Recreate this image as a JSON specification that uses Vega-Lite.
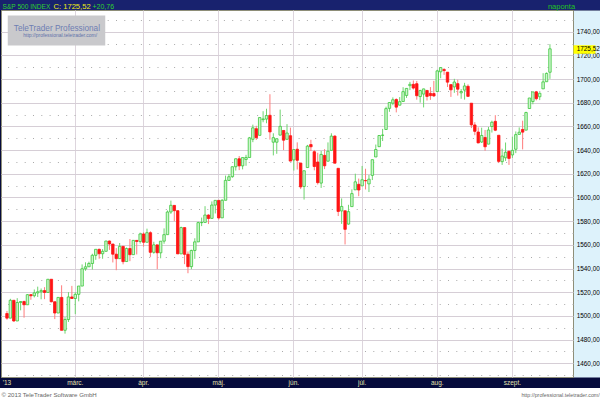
{
  "$schema": "https://vega.github.io/schema/vega-lite/v6.json",
  "autosize": {"type": "none"},
  "padding": {"left": 1, "top": 10, "right": 27, "bottom": 23},
  "width": 572,
  "height": 367,
  "background": "#060b3c",
  "config": {
    "font": "Liberation Sans, Arial, sans-serif",
    "view": {"fill": "#ffffff", "stroke": "#8e8e78", "strokeWidth": 1}
  },
  "data": {
    "values": [
      {"d": "2013-01-31", "o": 1501.99, "h": 1504.19, "l": 1496.76, "c": 1498.11},
      {"d": "2013-02-01", "o": 1498.11, "h": 1514.41, "l": 1498.11, "c": 1513.17},
      {"d": "2013-02-04", "o": 1513.17, "h": 1513.17, "l": 1495.02, "c": 1495.71},
      {"d": "2013-02-05", "o": 1495.71, "h": 1514.96, "l": 1495.71, "c": 1511.29},
      {"d": "2013-02-06", "o": 1511.29, "h": 1512.53, "l": 1504.71, "c": 1512.12},
      {"d": "2013-02-07", "o": 1512.12, "h": 1512.9, "l": 1498.49, "c": 1509.39},
      {"d": "2013-02-08", "o": 1509.39, "h": 1518.31, "l": 1509.39, "c": 1517.93},
      {"d": "2013-02-11", "o": 1517.93, "h": 1518.31, "l": 1513.61, "c": 1517.01},
      {"d": "2013-02-12", "o": 1517.01, "h": 1522.29, "l": 1515.61, "c": 1519.43},
      {"d": "2013-02-13", "o": 1519.43, "h": 1524.69, "l": 1515.93, "c": 1520.33},
      {"d": "2013-02-14", "o": 1520.33, "h": 1523.14, "l": 1514.02, "c": 1521.38},
      {"d": "2013-02-15", "o": 1521.38, "h": 1524.24, "l": 1514.14, "c": 1519.79},
      {"d": "2013-02-19", "o": 1519.79, "h": 1530.94, "l": 1519.79, "c": 1530.94},
      {"d": "2013-02-20", "o": 1530.94, "h": 1530.94, "l": 1511.41, "c": 1511.95},
      {"d": "2013-02-21", "o": 1511.95, "h": 1511.95, "l": 1497.29, "c": 1502.42},
      {"d": "2013-02-22", "o": 1502.42, "h": 1515.64, "l": 1502.42, "c": 1515.6},
      {"d": "2013-02-25", "o": 1515.6, "h": 1525.84, "l": 1487.85, "c": 1487.85},
      {"d": "2013-02-26", "o": 1487.85, "h": 1498.99, "l": 1485.01, "c": 1496.94},
      {"d": "2013-02-27", "o": 1496.94, "h": 1520.08, "l": 1494.88, "c": 1515.99},
      {"d": "2013-02-28", "o": 1515.99, "h": 1525.34, "l": 1514.46, "c": 1514.68},
      {"d": "2013-03-01", "o": 1514.68, "h": 1519.99, "l": 1501.48, "c": 1518.2},
      {"d": "2013-03-04", "o": 1518.2, "h": 1525.27, "l": 1512.29, "c": 1525.2},
      {"d": "2013-03-05", "o": 1525.2, "h": 1543.47, "l": 1525.2, "c": 1539.79},
      {"d": "2013-03-06", "o": 1539.79, "h": 1545.25, "l": 1538.11, "c": 1541.46},
      {"d": "2013-03-07", "o": 1541.46, "h": 1545.78, "l": 1541.46, "c": 1544.26},
      {"d": "2013-03-08", "o": 1544.26, "h": 1552.48, "l": 1539.16, "c": 1551.18},
      {"d": "2013-03-11", "o": 1551.15, "h": 1556.27, "l": 1547.36, "c": 1556.22},
      {"d": "2013-03-12", "o": 1556.22, "h": 1556.77, "l": 1548.24, "c": 1552.48},
      {"d": "2013-03-13", "o": 1552.48, "h": 1556.39, "l": 1548.25, "c": 1554.52},
      {"d": "2013-03-14", "o": 1554.52, "h": 1563.32, "l": 1554.52, "c": 1563.23},
      {"d": "2013-03-15", "o": 1563.21, "h": 1563.62, "l": 1555.74, "c": 1560.7},
      {"d": "2013-03-18", "o": 1560.7, "h": 1560.7, "l": 1545.13, "c": 1552.1},
      {"d": "2013-03-19", "o": 1552.1, "h": 1557.25, "l": 1538.57, "c": 1548.34},
      {"d": "2013-03-20", "o": 1548.34, "h": 1561.56, "l": 1548.34, "c": 1558.71},
      {"d": "2013-03-21", "o": 1558.71, "h": 1558.71, "l": 1543.55, "c": 1545.8},
      {"d": "2013-03-22", "o": 1545.9, "h": 1557.74, "l": 1545.9, "c": 1556.89},
      {"d": "2013-03-25", "o": 1556.89, "h": 1564.91, "l": 1546.22, "c": 1551.69},
      {"d": "2013-03-26", "o": 1551.69, "h": 1563.95, "l": 1551.69, "c": 1563.77},
      {"d": "2013-03-27", "o": 1563.75, "h": 1564.07, "l": 1551.9, "c": 1562.85},
      {"d": "2013-03-28", "o": 1562.86, "h": 1570.28, "l": 1561.08, "c": 1569.19},
      {"d": "2013-04-01", "o": 1569.18, "h": 1570.57, "l": 1558.47, "c": 1562.17},
      {"d": "2013-04-02", "o": 1562.17, "h": 1573.66, "l": 1562.17, "c": 1570.25},
      {"d": "2013-04-03", "o": 1570.25, "h": 1571.47, "l": 1549.8, "c": 1553.69},
      {"d": "2013-04-04", "o": 1553.69, "h": 1562.6, "l": 1552.52, "c": 1559.98},
      {"d": "2013-04-05", "o": 1559.98, "h": 1559.98, "l": 1539.5, "c": 1553.28},
      {"d": "2013-04-08", "o": 1553.26, "h": 1563.07, "l": 1548.63, "c": 1563.07},
      {"d": "2013-04-09", "o": 1563.11, "h": 1573.89, "l": 1560.92, "c": 1568.61},
      {"d": "2013-04-10", "o": 1568.61, "h": 1589.07, "l": 1568.61, "c": 1587.73},
      {"d": "2013-04-11", "o": 1587.73, "h": 1597.35, "l": 1586.17, "c": 1593.37},
      {"d": "2013-04-12", "o": 1593.3, "h": 1593.3, "l": 1579.97, "c": 1588.85},
      {"d": "2013-04-15", "o": 1588.84, "h": 1588.84, "l": 1552.28, "c": 1552.36},
      {"d": "2013-04-16", "o": 1552.36, "h": 1575.35, "l": 1552.36, "c": 1574.57},
      {"d": "2013-04-17", "o": 1574.57, "h": 1574.57, "l": 1543.69, "c": 1552.01},
      {"d": "2013-04-18", "o": 1552.03, "h": 1554.38, "l": 1536.03, "c": 1541.61},
      {"d": "2013-04-19", "o": 1541.61, "h": 1555.89, "l": 1539.4, "c": 1555.25},
      {"d": "2013-04-22", "o": 1555.25, "h": 1565.55, "l": 1548.19, "c": 1562.5},
      {"d": "2013-04-23", "o": 1562.5, "h": 1579.58, "l": 1562.5, "c": 1578.78},
      {"d": "2013-04-24", "o": 1578.78, "h": 1583.0, "l": 1575.8, "c": 1578.79},
      {"d": "2013-04-25", "o": 1578.93, "h": 1592.64, "l": 1578.93, "c": 1585.16},
      {"d": "2013-04-26", "o": 1585.16, "h": 1585.78, "l": 1577.56, "c": 1582.24},
      {"d": "2013-04-29", "o": 1582.34, "h": 1596.65, "l": 1582.34, "c": 1593.61},
      {"d": "2013-04-30", "o": 1593.58, "h": 1597.57, "l": 1586.5, "c": 1597.57},
      {"d": "2013-05-01", "o": 1597.55, "h": 1597.55, "l": 1581.28, "c": 1582.7},
      {"d": "2013-05-02", "o": 1582.77, "h": 1598.6, "l": 1582.77, "c": 1597.59},
      {"d": "2013-05-03", "o": 1597.6, "h": 1618.46, "l": 1597.6, "c": 1614.42},
      {"d": "2013-05-06", "o": 1614.4, "h": 1619.77, "l": 1614.21, "c": 1617.5},
      {"d": "2013-05-07", "o": 1617.55, "h": 1626.03, "l": 1616.64, "c": 1625.96},
      {"d": "2013-05-08", "o": 1625.95, "h": 1632.78, "l": 1622.7, "c": 1632.69},
      {"d": "2013-05-09", "o": 1632.69, "h": 1635.01, "l": 1623.09, "c": 1626.67},
      {"d": "2013-05-10", "o": 1626.69, "h": 1633.7, "l": 1623.71, "c": 1633.7},
      {"d": "2013-05-13", "o": 1632.1, "h": 1636.0, "l": 1626.74, "c": 1633.77},
      {"d": "2013-05-14", "o": 1633.75, "h": 1651.1, "l": 1633.75, "c": 1650.34},
      {"d": "2013-05-15", "o": 1649.13, "h": 1661.49, "l": 1646.68, "c": 1658.78},
      {"d": "2013-05-16", "o": 1658.07, "h": 1660.51, "l": 1648.6, "c": 1650.47},
      {"d": "2013-05-17", "o": 1652.45, "h": 1667.47, "l": 1652.45, "c": 1667.47},
      {"d": "2013-05-20", "o": 1665.71, "h": 1672.84, "l": 1663.52, "c": 1666.29},
      {"d": "2013-05-21", "o": 1666.2, "h": 1674.93, "l": 1662.67, "c": 1669.16},
      {"d": "2013-05-22", "o": 1669.39, "h": 1687.18, "l": 1648.86, "c": 1655.35},
      {"d": "2013-05-23", "o": 1646.67, "h": 1654.19, "l": 1635.53, "c": 1650.51},
      {"d": "2013-05-24", "o": 1646.67, "h": 1649.78, "l": 1636.88, "c": 1649.6},
      {"d": "2013-05-28", "o": 1652.63, "h": 1674.21, "l": 1652.63, "c": 1660.06},
      {"d": "2013-05-29", "o": 1656.57, "h": 1656.57, "l": 1640.05, "c": 1648.36},
      {"d": "2013-05-30", "o": 1649.14, "h": 1661.91, "l": 1648.61, "c": 1654.41},
      {"d": "2013-05-31", "o": 1652.13, "h": 1658.99, "l": 1630.74, "c": 1630.74},
      {"d": "2013-06-03", "o": 1631.71, "h": 1640.42, "l": 1622.72, "c": 1640.42},
      {"d": "2013-06-04", "o": 1640.73, "h": 1646.53, "l": 1623.62, "c": 1631.38},
      {"d": "2013-06-05", "o": 1629.05, "h": 1629.31, "l": 1607.09, "c": 1608.9},
      {"d": "2013-06-06", "o": 1609.29, "h": 1622.56, "l": 1598.23, "c": 1622.56},
      {"d": "2013-06-07", "o": 1625.27, "h": 1644.4, "l": 1625.27, "c": 1643.38},
      {"d": "2013-06-10", "o": 1644.67, "h": 1648.69, "l": 1639.26, "c": 1642.81},
      {"d": "2013-06-11", "o": 1638.64, "h": 1640.13, "l": 1622.92, "c": 1626.13},
      {"d": "2013-06-12", "o": 1629.94, "h": 1637.71, "l": 1610.92, "c": 1612.52},
      {"d": "2013-06-13", "o": 1612.15, "h": 1639.25, "l": 1608.07, "c": 1636.36},
      {"d": "2013-06-14", "o": 1635.52, "h": 1640.8, "l": 1623.96, "c": 1626.73},
      {"d": "2013-06-17", "o": 1630.64, "h": 1646.5, "l": 1630.34, "c": 1639.04},
      {"d": "2013-06-18", "o": 1639.77, "h": 1654.19, "l": 1639.77, "c": 1651.81},
      {"d": "2013-06-19", "o": 1651.83, "h": 1652.45, "l": 1628.91, "c": 1628.93},
      {"d": "2013-06-20", "o": 1624.62, "h": 1624.62, "l": 1584.32, "c": 1588.19},
      {"d": "2013-06-21", "o": 1588.62, "h": 1599.19, "l": 1577.7, "c": 1592.43},
      {"d": "2013-06-24", "o": 1588.77, "h": 1588.77, "l": 1560.33, "c": 1573.09},
      {"d": "2013-06-25", "o": 1577.52, "h": 1593.79, "l": 1577.09, "c": 1588.03},
      {"d": "2013-06-26", "o": 1592.27, "h": 1606.83, "l": 1592.27, "c": 1603.26},
      {"d": "2013-06-27", "o": 1606.44, "h": 1620.07, "l": 1606.44, "c": 1613.2},
      {"d": "2013-06-28", "o": 1611.12, "h": 1615.94, "l": 1601.06, "c": 1606.28},
      {"d": "2013-07-01", "o": 1609.78, "h": 1626.61, "l": 1609.78, "c": 1614.96},
      {"d": "2013-07-02", "o": 1614.29, "h": 1624.26, "l": 1606.77, "c": 1614.08},
      {"d": "2013-07-03", "o": 1611.48, "h": 1618.97, "l": 1604.57, "c": 1615.41},
      {"d": "2013-07-05", "o": 1618.65, "h": 1632.07, "l": 1614.71, "c": 1631.89},
      {"d": "2013-07-08", "o": 1634.2, "h": 1644.68, "l": 1634.2, "c": 1640.46},
      {"d": "2013-07-09", "o": 1642.89, "h": 1652.33, "l": 1642.89, "c": 1652.32},
      {"d": "2013-07-10", "o": 1652.5, "h": 1657.92, "l": 1647.66, "c": 1652.62},
      {"d": "2013-07-11", "o": 1657.41, "h": 1676.63, "l": 1657.41, "c": 1675.02},
      {"d": "2013-07-12", "o": 1675.26, "h": 1680.19, "l": 1672.33, "c": 1680.19},
      {"d": "2013-07-15", "o": 1679.59, "h": 1684.51, "l": 1677.89, "c": 1682.5},
      {"d": "2013-07-16", "o": 1682.7, "h": 1683.73, "l": 1671.84, "c": 1676.26},
      {"d": "2013-07-17", "o": 1677.91, "h": 1684.75, "l": 1677.91, "c": 1680.91},
      {"d": "2013-07-18", "o": 1681.05, "h": 1693.12, "l": 1681.05, "c": 1689.37},
      {"d": "2013-07-19", "o": 1686.15, "h": 1692.09, "l": 1684.08, "c": 1692.09},
      {"d": "2013-07-22", "o": 1694.41, "h": 1697.61, "l": 1690.67, "c": 1695.53},
      {"d": "2013-07-23", "o": 1695.53, "h": 1698.78, "l": 1691.13, "c": 1692.39},
      {"d": "2013-07-24", "o": 1696.06, "h": 1698.38, "l": 1682.57, "c": 1685.94},
      {"d": "2013-07-25", "o": 1685.21, "h": 1690.94, "l": 1680.07, "c": 1690.25},
      {"d": "2013-07-26", "o": 1687.31, "h": 1691.85, "l": 1676.03, "c": 1691.65},
      {"d": "2013-07-29", "o": 1690.32, "h": 1690.92, "l": 1681.86, "c": 1685.33},
      {"d": "2013-07-30", "o": 1687.92, "h": 1693.19, "l": 1682.42, "c": 1685.96},
      {"d": "2013-07-31", "o": 1687.76, "h": 1698.43, "l": 1684.94, "c": 1685.73},
      {"d": "2013-08-01", "o": 1689.42, "h": 1707.85, "l": 1689.42, "c": 1706.87},
      {"d": "2013-08-02", "o": 1706.1, "h": 1709.67, "l": 1700.68, "c": 1709.67},
      {"d": "2013-08-05", "o": 1708.01, "h": 1709.24, "l": 1703.55, "c": 1707.14},
      {"d": "2013-08-06", "o": 1705.79, "h": 1705.79, "l": 1693.29, "c": 1697.37},
      {"d": "2013-08-07", "o": 1695.3, "h": 1695.3, "l": 1684.91, "c": 1690.91},
      {"d": "2013-08-08", "o": 1693.35, "h": 1700.18, "l": 1688.38, "c": 1697.48},
      {"d": "2013-08-09", "o": 1696.1, "h": 1699.42, "l": 1686.02, "c": 1691.42},
      {"d": "2013-08-12", "o": 1688.37, "h": 1691.49, "l": 1683.35, "c": 1689.47},
      {"d": "2013-08-13", "o": 1690.65, "h": 1696.81, "l": 1682.62, "c": 1694.16},
      {"d": "2013-08-14", "o": 1693.88, "h": 1695.52, "l": 1684.83, "c": 1685.39},
      {"d": "2013-08-15", "o": 1679.61, "h": 1679.61, "l": 1658.59, "c": 1661.32},
      {"d": "2013-08-16", "o": 1661.22, "h": 1663.6, "l": 1652.61, "c": 1655.83},
      {"d": "2013-08-19", "o": 1655.25, "h": 1659.18, "l": 1645.84, "c": 1646.06},
      {"d": "2013-08-20", "o": 1646.81, "h": 1658.92, "l": 1646.08, "c": 1652.35},
      {"d": "2013-08-21", "o": 1650.66, "h": 1656.99, "l": 1639.43, "c": 1642.8},
      {"d": "2013-08-22", "o": 1645.03, "h": 1659.55, "l": 1645.03, "c": 1656.96},
      {"d": "2013-08-23", "o": 1659.92, "h": 1664.85, "l": 1654.81, "c": 1663.5},
      {"d": "2013-08-26", "o": 1664.29, "h": 1669.51, "l": 1656.02, "c": 1656.78},
      {"d": "2013-08-27", "o": 1652.54, "h": 1652.54, "l": 1629.05, "c": 1630.48},
      {"d": "2013-08-28", "o": 1630.25, "h": 1641.18, "l": 1627.47, "c": 1634.96},
      {"d": "2013-08-29", "o": 1633.5, "h": 1646.41, "l": 1630.88, "c": 1638.17},
      {"d": "2013-08-30", "o": 1638.89, "h": 1640.08, "l": 1627.47, "c": 1632.97},
      {"d": "2013-09-03", "o": 1635.95, "h": 1651.35, "l": 1633.41, "c": 1639.77},
      {"d": "2013-09-04", "o": 1640.72, "h": 1655.72, "l": 1637.41, "c": 1653.08},
      {"d": "2013-09-05", "o": 1653.28, "h": 1659.17, "l": 1653.07, "c": 1655.08},
      {"d": "2013-09-06", "o": 1657.44, "h": 1664.83, "l": 1640.62, "c": 1655.17},
      {"d": "2013-09-09", "o": 1656.85, "h": 1672.4, "l": 1656.85, "c": 1671.71},
      {"d": "2013-09-10", "o": 1675.11, "h": 1684.09, "l": 1675.11, "c": 1683.99},
      {"d": "2013-09-11", "o": 1681.04, "h": 1689.13, "l": 1678.7, "c": 1689.13},
      {"d": "2013-09-12", "o": 1689.21, "h": 1689.97, "l": 1681.96, "c": 1683.42},
      {"d": "2013-09-13", "o": 1685.04, "h": 1688.73, "l": 1682.22, "c": 1687.99},
      {"d": "2013-09-16", "o": 1691.7, "h": 1704.95, "l": 1691.7, "c": 1697.6},
      {"d": "2013-09-17", "o": 1697.73, "h": 1705.52, "l": 1697.73, "c": 1704.76},
      {"d": "2013-09-18", "o": 1705.74, "h": 1729.44, "l": 1700.18, "c": 1725.52}
    ]
  },
  "resolve": {"axis": {"x": "independent", "y": "independent"}},
  "layer": [
    {
      "transform": [{"filter": "datum.c >= datum.o"}],
      "mark": {"type": "rule", "color": "#6fd46f", "strokeWidth": 1},
      "encoding": {
        "x": {
          "field": "d", "type": "ordinal",
          "scale": {
            "type": "band", "paddingInner": 0, "paddingOuter": 0.25,
            "domain": ["2013-01-30", "2013-01-31", "2013-02-01", "2013-02-04", "2013-02-05", "2013-02-06", "2013-02-07", "2013-02-08", "2013-02-11", "2013-02-12", "2013-02-13", "2013-02-14", "2013-02-15", "2013-02-19", "2013-02-20", "2013-02-21", "2013-02-22", "2013-02-25", "2013-02-26", "2013-02-27", "2013-02-28", "2013-03-01", "2013-03-04", "2013-03-05", "2013-03-06", "2013-03-07", "2013-03-08", "2013-03-11", "2013-03-12", "2013-03-13", "2013-03-14", "2013-03-15", "2013-03-18", "2013-03-19", "2013-03-20", "2013-03-21", "2013-03-22", "2013-03-25", "2013-03-26", "2013-03-27", "2013-03-28", "2013-04-01", "2013-04-02", "2013-04-03", "2013-04-04", "2013-04-05", "2013-04-08", "2013-04-09", "2013-04-10", "2013-04-11", "2013-04-12", "2013-04-15", "2013-04-16", "2013-04-17", "2013-04-18", "2013-04-19", "2013-04-22", "2013-04-23", "2013-04-24", "2013-04-25", "2013-04-26", "2013-04-29", "2013-04-30", "2013-05-01", "2013-05-02", "2013-05-03", "2013-05-06", "2013-05-07", "2013-05-08", "2013-05-09", "2013-05-10", "2013-05-13", "2013-05-14", "2013-05-15", "2013-05-16", "2013-05-17", "2013-05-20", "2013-05-21", "2013-05-22", "2013-05-23", "2013-05-24", "2013-05-28", "2013-05-29", "2013-05-30", "2013-05-31", "2013-06-03", "2013-06-04", "2013-06-05", "2013-06-06", "2013-06-07", "2013-06-10", "2013-06-11", "2013-06-12", "2013-06-13", "2013-06-14", "2013-06-17", "2013-06-18", "2013-06-19", "2013-06-20", "2013-06-21", "2013-06-24", "2013-06-25", "2013-06-26", "2013-06-27", "2013-06-28", "2013-07-01", "2013-07-02", "2013-07-03", "2013-07-05", "2013-07-08", "2013-07-09", "2013-07-10", "2013-07-11", "2013-07-12", "2013-07-15", "2013-07-16", "2013-07-17", "2013-07-18", "2013-07-19", "2013-07-22", "2013-07-23", "2013-07-24", "2013-07-25", "2013-07-26", "2013-07-29", "2013-07-30", "2013-07-31", "2013-08-01", "2013-08-02", "2013-08-05", "2013-08-06", "2013-08-07", "2013-08-08", "2013-08-09", "2013-08-12", "2013-08-13", "2013-08-14", "2013-08-15", "2013-08-16", "2013-08-19", "2013-08-20", "2013-08-21", "2013-08-22", "2013-08-23", "2013-08-26", "2013-08-27", "2013-08-28", "2013-08-29", "2013-08-30", "2013-09-03", "2013-09-04", "2013-09-05", "2013-09-06", "2013-09-09", "2013-09-10", "2013-09-11", "2013-09-12", "2013-09-13", "2013-09-16", "2013-09-17", "2013-09-18", "2013-09-19", "2013-09-20", "2013-09-23", "2013-09-24", "2013-09-25", "2013-09-26"]
          },
          "axis": {
            "orient": "bottom", "offset": 59.5, "bandPosition": 0.5,
            "values": ["2013-01-31", "2013-03-01", "2013-04-01", "2013-05-01", "2013-06-03", "2013-07-01", "2013-08-01", "2013-09-03"],
            "domain": true, "domainColor": "#ffffff", "domainWidth": 98, "domainCap": "square",
            "ticks": false,
            "labels": true,
            "labelExpr": "datum.value == '2013-01-31' ? \"'13\" : ['', 'jan.', 'febr.', 'márc.', 'ápr.', 'máj.', 'jún.', 'júl.', 'aug.', 'szept.', 'okt.', 'nov.', 'dec.'][toNumber(substring(datum.value, 5, 7))]",
            "labelColor": "#e2e2b0", "labelFontSize": 6.5, "labelPadding": -54, "labelBaseline": "middle", "labelAlign": "center", "labelAngle": 0,
            "labelOverlap": false, "labelBound": false, "labelFlush": false,
            "grid": true, "gridColor": "#ddd5dd", "gridWidth": 1,
            "gridOpacity": {"condition": {"test": "datum.value == '2013-01-31'", "value": 0}, "value": 1},
            "title": "© 2013 TeleTrader Software GmbH",
            "titleX": 0, "titleY": -42.5, "titleAlign": "left", "titleBaseline": "middle", "titleAnchor": "start",
            "titleColor": "#666666", "titleFontSize": 6.1, "titleFontWeight": "normal"
          }
        },
        "y": {
          "field": "l", "type": "quantitative",
          "scale": {"domain": [1448.4, 1758.3], "nice": false, "zero": false},
          "axis": {
            "orient": "right", "offset": 13.75,
            "values": [1460, 1480, 1500, 1520, 1540, 1560, 1580, 1600, 1620, 1640, 1660, 1680, 1700, 1720, 1740],
            "domain": true, "domainColor": "#ddf2fb", "domainWidth": 26.5, "domainCap": "butt",
            "ticks": false, "labels": false,
            "grid": true, "gridColor": "#d6ced6", "gridWidth": 1,
            "title": "http://professional.teletrader.com/",
            "titleAngle": 0, "titleX": 12.5, "titleY": 384, "titleAlign": "right", "titleBaseline": "middle",
            "titleColor": "#666666", "titleFontSize": 5.3, "titleFontWeight": "normal"
          }
        },
        "y2": {"field": "h"}
      }
    },
    {
      "transform": [{"filter": "datum.c < datum.o"}],
      "mark": {"type": "rule", "color": "#ff7c7c", "strokeWidth": 1},
      "encoding": {
        "x": {
          "field": "d", "type": "ordinal",
          "scale": {
            "type": "band", "paddingInner": 0, "paddingOuter": 0.25,
            "domain": ["2013-01-30", "2013-01-31", "2013-02-01", "2013-02-04", "2013-02-05", "2013-02-06", "2013-02-07", "2013-02-08", "2013-02-11", "2013-02-12", "2013-02-13", "2013-02-14", "2013-02-15", "2013-02-19", "2013-02-20", "2013-02-21", "2013-02-22", "2013-02-25", "2013-02-26", "2013-02-27", "2013-02-28", "2013-03-01", "2013-03-04", "2013-03-05", "2013-03-06", "2013-03-07", "2013-03-08", "2013-03-11", "2013-03-12", "2013-03-13", "2013-03-14", "2013-03-15", "2013-03-18", "2013-03-19", "2013-03-20", "2013-03-21", "2013-03-22", "2013-03-25", "2013-03-26", "2013-03-27", "2013-03-28", "2013-04-01", "2013-04-02", "2013-04-03", "2013-04-04", "2013-04-05", "2013-04-08", "2013-04-09", "2013-04-10", "2013-04-11", "2013-04-12", "2013-04-15", "2013-04-16", "2013-04-17", "2013-04-18", "2013-04-19", "2013-04-22", "2013-04-23", "2013-04-24", "2013-04-25", "2013-04-26", "2013-04-29", "2013-04-30", "2013-05-01", "2013-05-02", "2013-05-03", "2013-05-06", "2013-05-07", "2013-05-08", "2013-05-09", "2013-05-10", "2013-05-13", "2013-05-14", "2013-05-15", "2013-05-16", "2013-05-17", "2013-05-20", "2013-05-21", "2013-05-22", "2013-05-23", "2013-05-24", "2013-05-28", "2013-05-29", "2013-05-30", "2013-05-31", "2013-06-03", "2013-06-04", "2013-06-05", "2013-06-06", "2013-06-07", "2013-06-10", "2013-06-11", "2013-06-12", "2013-06-13", "2013-06-14", "2013-06-17", "2013-06-18", "2013-06-19", "2013-06-20", "2013-06-21", "2013-06-24", "2013-06-25", "2013-06-26", "2013-06-27", "2013-06-28", "2013-07-01", "2013-07-02", "2013-07-03", "2013-07-05", "2013-07-08", "2013-07-09", "2013-07-10", "2013-07-11", "2013-07-12", "2013-07-15", "2013-07-16", "2013-07-17", "2013-07-18", "2013-07-19", "2013-07-22", "2013-07-23", "2013-07-24", "2013-07-25", "2013-07-26", "2013-07-29", "2013-07-30", "2013-07-31", "2013-08-01", "2013-08-02", "2013-08-05", "2013-08-06", "2013-08-07", "2013-08-08", "2013-08-09", "2013-08-12", "2013-08-13", "2013-08-14", "2013-08-15", "2013-08-16", "2013-08-19", "2013-08-20", "2013-08-21", "2013-08-22", "2013-08-23", "2013-08-26", "2013-08-27", "2013-08-28", "2013-08-29", "2013-08-30", "2013-09-03", "2013-09-04", "2013-09-05", "2013-09-06", "2013-09-09", "2013-09-10", "2013-09-11", "2013-09-12", "2013-09-13", "2013-09-16", "2013-09-17", "2013-09-18", "2013-09-19", "2013-09-20", "2013-09-23", "2013-09-24", "2013-09-25", "2013-09-26"]
          },
          "axis": {
            "orient": "top", "offset": -35, "bandPosition": 0.5,
            "values": ["2013-02-21"],
            "domain": false, "grid": false,
            "ticks": true, "tickColor": "#c9c9cc", "tickWidth": 97.5, "tickSize": 30, "tickOffset": 1.4, "tickCap": "butt",
            "labels": true, "labelExpr": "'http://professional.teletrader.com/'",
            "labelColor": "#6272aa", "labelFontSize": 5, "labelPadding": -22, "labelOffset": 3.5, "labelAngle": 0,
            "labelBound": false, "labelOverlap": false, "labelFlush": false,
            "title": "TeleTrader Professional",
            "titleX": 12.3, "titleY": -15, "titleAlign": "left", "titleBaseline": "alphabetic", "titleAnchor": "start",
            "titleColor": "#6e7db3", "titleFontSize": 8.2, "titleFontWeight": "normal"
          }
        },
        "y": {
          "field": "l", "type": "quantitative",
          "scale": {"domain": [1448.4, 1758.3], "nice": false, "zero": false},
          "axis": {
            "orient": "right", "offset": 0,
            "values": [1460, 1480, 1500, 1520, 1540, 1560, 1580, 1600, 1620, 1640, 1660, 1680, 1700, 1720, 1740],
            "domain": false, "ticks": false, "grid": false,
            "labels": true,
            "labelExpr": "replace(format(datum.value, '.2f'), '.', ',')",
            "labelColor": "#000000", "labelFontSize": 6.4, "labelPadding": 3.2, "labelAlign": "left", "labelBaseline": "middle",
            "labelOverlap": false, "labelBound": false, "labelFlush": false,
            "title": "S&P 500 INDEX",
            "titleAngle": 0, "titleX": -571, "titleY": -2, "titleAlign": "left", "titleBaseline": "alphabetic",
            "titleColor": "#2fd12f", "titleFontSize": 6.6, "titleFontWeight": "normal"
          }
        },
        "y2": {"field": "h"}
      }
    },
    {
      "transform": [{"filter": "datum.c >= datum.o"}],
      "mark": {"type": "bar", "fill": "#cdf5cd", "stroke": "#3cc83c", "strokeWidth": 0.8, "width": {"band": 0.72}},
      "encoding": {
        "x": {
          "field": "d", "type": "ordinal",
          "scale": {
            "type": "band", "paddingInner": 0, "paddingOuter": 0.25,
            "domain": ["2013-01-30", "2013-01-31", "2013-02-01", "2013-02-04", "2013-02-05", "2013-02-06", "2013-02-07", "2013-02-08", "2013-02-11", "2013-02-12", "2013-02-13", "2013-02-14", "2013-02-15", "2013-02-19", "2013-02-20", "2013-02-21", "2013-02-22", "2013-02-25", "2013-02-26", "2013-02-27", "2013-02-28", "2013-03-01", "2013-03-04", "2013-03-05", "2013-03-06", "2013-03-07", "2013-03-08", "2013-03-11", "2013-03-12", "2013-03-13", "2013-03-14", "2013-03-15", "2013-03-18", "2013-03-19", "2013-03-20", "2013-03-21", "2013-03-22", "2013-03-25", "2013-03-26", "2013-03-27", "2013-03-28", "2013-04-01", "2013-04-02", "2013-04-03", "2013-04-04", "2013-04-05", "2013-04-08", "2013-04-09", "2013-04-10", "2013-04-11", "2013-04-12", "2013-04-15", "2013-04-16", "2013-04-17", "2013-04-18", "2013-04-19", "2013-04-22", "2013-04-23", "2013-04-24", "2013-04-25", "2013-04-26", "2013-04-29", "2013-04-30", "2013-05-01", "2013-05-02", "2013-05-03", "2013-05-06", "2013-05-07", "2013-05-08", "2013-05-09", "2013-05-10", "2013-05-13", "2013-05-14", "2013-05-15", "2013-05-16", "2013-05-17", "2013-05-20", "2013-05-21", "2013-05-22", "2013-05-23", "2013-05-24", "2013-05-28", "2013-05-29", "2013-05-30", "2013-05-31", "2013-06-03", "2013-06-04", "2013-06-05", "2013-06-06", "2013-06-07", "2013-06-10", "2013-06-11", "2013-06-12", "2013-06-13", "2013-06-14", "2013-06-17", "2013-06-18", "2013-06-19", "2013-06-20", "2013-06-21", "2013-06-24", "2013-06-25", "2013-06-26", "2013-06-27", "2013-06-28", "2013-07-01", "2013-07-02", "2013-07-03", "2013-07-05", "2013-07-08", "2013-07-09", "2013-07-10", "2013-07-11", "2013-07-12", "2013-07-15", "2013-07-16", "2013-07-17", "2013-07-18", "2013-07-19", "2013-07-22", "2013-07-23", "2013-07-24", "2013-07-25", "2013-07-26", "2013-07-29", "2013-07-30", "2013-07-31", "2013-08-01", "2013-08-02", "2013-08-05", "2013-08-06", "2013-08-07", "2013-08-08", "2013-08-09", "2013-08-12", "2013-08-13", "2013-08-14", "2013-08-15", "2013-08-16", "2013-08-19", "2013-08-20", "2013-08-21", "2013-08-22", "2013-08-23", "2013-08-26", "2013-08-27", "2013-08-28", "2013-08-29", "2013-08-30", "2013-09-03", "2013-09-04", "2013-09-05", "2013-09-06", "2013-09-09", "2013-09-10", "2013-09-11", "2013-09-12", "2013-09-13", "2013-09-16", "2013-09-17", "2013-09-18", "2013-09-19", "2013-09-20", "2013-09-23", "2013-09-24", "2013-09-25", "2013-09-26"]
          },
          "axis": {
            "orient": "top", "offset": 49,
            "domain": true, "domainColor": "#18226e", "domainWidth": 97, "domainCap": "square",
            "ticks": false, "labels": false, "grid": false,
            "title": "naponta",
            "titleX": 560, "titleY": 47, "titleAlign": "center", "titleBaseline": "alphabetic",
            "titleColor": "#22c422", "titleFontSize": 7.5, "titleFontWeight": "normal"
          }
        },
        "y": {
          "field": "o", "type": "quantitative",
          "scale": {"domain": [1448.4, 1758.3], "nice": false, "zero": false},
          "axis": {
            "orient": "right", "offset": 0,
            "values": [1725.52],
            "domain": false, "grid": false,
            "ticks": true, "tickColor": "#ffff00", "tickWidth": 8.5, "tickSize": 22, "tickCap": "butt",
            "labels": true,
            "labelExpr": "replace(format(datum.value, '.2f'), '.', ',')",
            "labelColor": "#000000", "labelFontSize": 6.4, "labelPadding": -18.8, "labelAlign": "left", "labelBaseline": "middle",
            "labelOverlap": false, "labelBound": false, "labelFlush": false,
            "title": "+20,76",
            "titleAngle": 0, "titleX": -481, "titleY": -2, "titleAlign": "left", "titleBaseline": "alphabetic",
            "titleColor": "#2fd12f", "titleFontSize": 7, "titleFontWeight": "normal"
          }
        },
        "y2": {"field": "c"}
      }
    },
    {
      "transform": [{"filter": "datum.c < datum.o"}],
      "mark": {"type": "bar", "fill": "#ff1414", "stroke": "#ff1414", "strokeWidth": 0.8, "width": {"band": 0.72}},
      "encoding": {
        "x": {
          "field": "d", "type": "ordinal",
          "scale": {
            "type": "band", "paddingInner": 0, "paddingOuter": 0.25,
            "domain": ["2013-01-30", "2013-01-31", "2013-02-01", "2013-02-04", "2013-02-05", "2013-02-06", "2013-02-07", "2013-02-08", "2013-02-11", "2013-02-12", "2013-02-13", "2013-02-14", "2013-02-15", "2013-02-19", "2013-02-20", "2013-02-21", "2013-02-22", "2013-02-25", "2013-02-26", "2013-02-27", "2013-02-28", "2013-03-01", "2013-03-04", "2013-03-05", "2013-03-06", "2013-03-07", "2013-03-08", "2013-03-11", "2013-03-12", "2013-03-13", "2013-03-14", "2013-03-15", "2013-03-18", "2013-03-19", "2013-03-20", "2013-03-21", "2013-03-22", "2013-03-25", "2013-03-26", "2013-03-27", "2013-03-28", "2013-04-01", "2013-04-02", "2013-04-03", "2013-04-04", "2013-04-05", "2013-04-08", "2013-04-09", "2013-04-10", "2013-04-11", "2013-04-12", "2013-04-15", "2013-04-16", "2013-04-17", "2013-04-18", "2013-04-19", "2013-04-22", "2013-04-23", "2013-04-24", "2013-04-25", "2013-04-26", "2013-04-29", "2013-04-30", "2013-05-01", "2013-05-02", "2013-05-03", "2013-05-06", "2013-05-07", "2013-05-08", "2013-05-09", "2013-05-10", "2013-05-13", "2013-05-14", "2013-05-15", "2013-05-16", "2013-05-17", "2013-05-20", "2013-05-21", "2013-05-22", "2013-05-23", "2013-05-24", "2013-05-28", "2013-05-29", "2013-05-30", "2013-05-31", "2013-06-03", "2013-06-04", "2013-06-05", "2013-06-06", "2013-06-07", "2013-06-10", "2013-06-11", "2013-06-12", "2013-06-13", "2013-06-14", "2013-06-17", "2013-06-18", "2013-06-19", "2013-06-20", "2013-06-21", "2013-06-24", "2013-06-25", "2013-06-26", "2013-06-27", "2013-06-28", "2013-07-01", "2013-07-02", "2013-07-03", "2013-07-05", "2013-07-08", "2013-07-09", "2013-07-10", "2013-07-11", "2013-07-12", "2013-07-15", "2013-07-16", "2013-07-17", "2013-07-18", "2013-07-19", "2013-07-22", "2013-07-23", "2013-07-24", "2013-07-25", "2013-07-26", "2013-07-29", "2013-07-30", "2013-07-31", "2013-08-01", "2013-08-02", "2013-08-05", "2013-08-06", "2013-08-07", "2013-08-08", "2013-08-09", "2013-08-12", "2013-08-13", "2013-08-14", "2013-08-15", "2013-08-16", "2013-08-19", "2013-08-20", "2013-08-21", "2013-08-22", "2013-08-23", "2013-08-26", "2013-08-27", "2013-08-28", "2013-08-29", "2013-08-30", "2013-09-03", "2013-09-04", "2013-09-05", "2013-09-06", "2013-09-09", "2013-09-10", "2013-09-11", "2013-09-12", "2013-09-13", "2013-09-16", "2013-09-17", "2013-09-18", "2013-09-19", "2013-09-20", "2013-09-23", "2013-09-24", "2013-09-25", "2013-09-26"]
          },
          "axis": {
            "orient": "top", "offset": 0,
            "domain": false, "ticks": false, "labels": false, "grid": false,
            "title": "C: 1725,52",
            "titleX": 52, "titleY": -2, "titleAlign": "left", "titleBaseline": "alphabetic",
            "titleColor": "#eeee10", "titleFontSize": 7.6, "titleFontWeight": "normal"
          }
        },
        "y": {
          "field": "o", "type": "quantitative",
          "scale": {"domain": [1448.4, 1758.3], "nice": false, "zero": false},
          "axis": {
            "orient": "right", "offset": 0,
            "values": [1450, 1470, 1490, 1510, 1530, 1550, 1570, 1590, 1610, 1630, 1650, 1670, 1690, 1710, 1730, 1750],
            "domain": false, "ticks": false, "labels": false,
            "grid": true, "gridColor": "#aaaaaa", "gridWidth": 1, "gridDash": [1, 7.3],
            "title": null
          }
        },
        "y2": {"field": "c"}
      }
    }
  ]
}
